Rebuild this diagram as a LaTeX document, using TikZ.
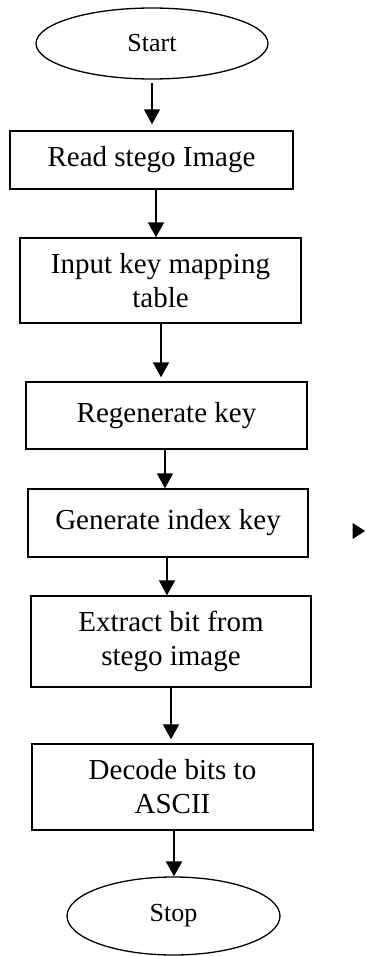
\documentclass[tikz,border=0pt]{standalone}
\usepackage{fontspec}
\setmainfont{Liberation Serif}
\usetikzlibrary{arrows.meta,shapes.geometric}

\tikzset{
  stepbox/.style={draw, line width=1.4pt, rectangle, inner sep=0pt, align=center,
    font=\fontsize{29}{34}\selectfont},
  terminal/.style={draw, line width=1.3pt, ellipse, inner sep=0pt,
    font=\fontsize{26}{30}\selectfont},
  flow/.style={line width=2pt, -{Triangle[length=15pt,width=16pt]}},
}

\begin{document}
\begin{tikzpicture}[x=1pt,y=-1pt]
\useasboundingbox (0,0) rectangle (365,956);

% process chain
\node[terminal, minimum width=232pt, minimum height=71pt] (start) at (152,43.5) {Start};
\node[stepbox, minimum width=283pt, minimum height=58pt] (read) at (151.5,160) {Read stego Image};
\node[stepbox, minimum width=281pt, minimum height=85pt] (input) at (160.5,280.5) {Input key mapping\\table};
\node[stepbox, minimum width=281pt, minimum height=67pt] (regen) at (166.5,415.5) {Regenerate key};
\node[stepbox, minimum width=280pt, minimum height=68pt] (index) at (168,523) {Generate index key};
\node[stepbox, minimum width=280pt, minimum height=91pt] (extract) at (171,641.5) {Extract bit from\\stego image};
\node[stepbox, minimum width=281pt, minimum height=86pt] (decode) at (172.5,787) {Decode bits to\\ASCII};
\node[terminal, minimum width=213pt, minimum height=78pt] (stop) at (173.5,916) {Stop};

% connectors
\draw[flow, shorten <=3pt, shorten >=6pt] ([xshift=0pt]start.south) -- ([xshift=0.5pt]read.north);
\draw[flow] ([xshift=4.5pt]read.south) -- ([xshift=-4.5pt]input.north);
\draw[flow, shorten >=4pt] ([xshift=0.5pt]input.south) -- ([xshift=-5.5pt]regen.north);
\draw[flow] ([xshift=-1.5pt]regen.south) -- ([xshift=-3pt]index.north);
\draw[flow] ([xshift=-1pt]index.south) -- ([xshift=-4pt]extract.north);
\draw[flow, shorten >=4pt] ([xshift=0pt]extract.south) -- ([xshift=-1.5pt]decode.north);
\draw[flow] ([xshift=1.5pt]decode.south) -- ([xshift=0.5pt]stop.north);

% stray arrowhead at the right margin
\fill (352.7,523) -- (365,531) -- (352.7,539) -- cycle;
\end{tikzpicture}
\end{document}
